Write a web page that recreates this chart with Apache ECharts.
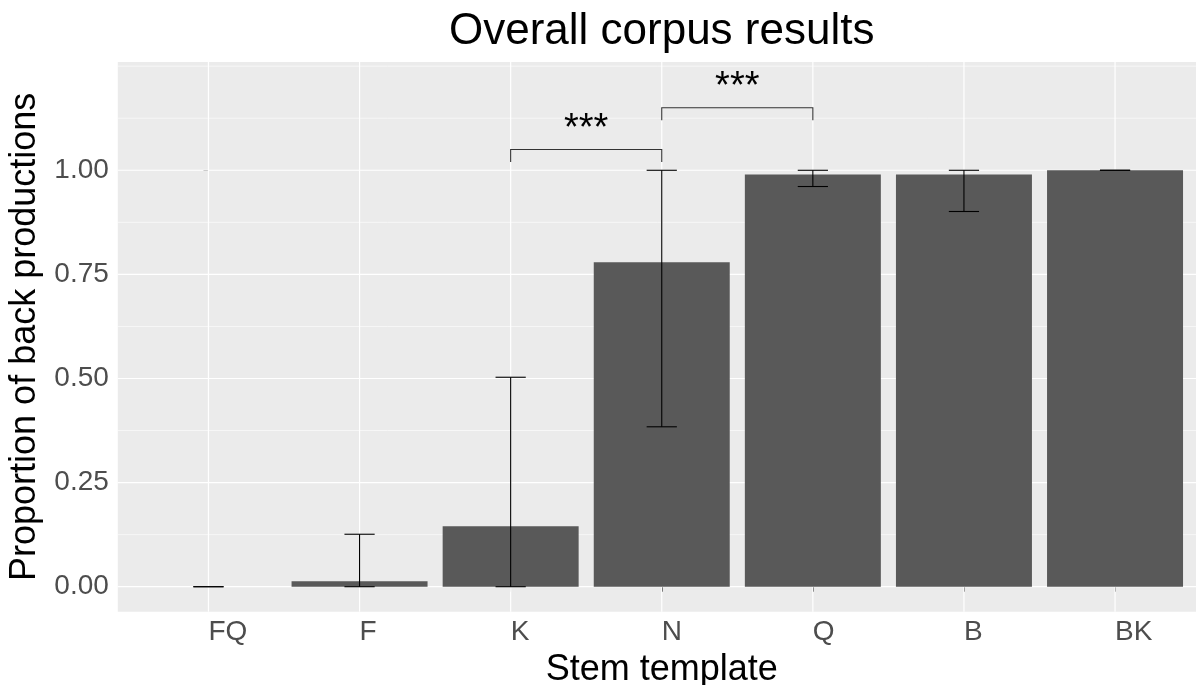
<!DOCTYPE html>
<html>
<head>
<meta charset="utf-8">
<script src="https://cdn.jsdelivr.net/npm/echarts@6/dist/echarts.min.js"></script>
<style>
html,body{margin:0;padding:0;background:#fff;}
#chart{width:1196px;height:685px;}
</style>
</head>
<body>
<div id="chart"></div>
<script>
// ---- data ----
const categories = ['FQ', 'F', 'K', 'N', 'Q', 'B', 'BK'];
const proportions = [0, 0.013, 0.145, 0.779, 0.990, 0.990, 1.0];
const errLower = [0, 0, 0, 0.384, 0.961, 0.901, 1.0];
const errUpper = [0, 0.126, 0.503, 1.0, 1.0, 1.0, 1.0];
// brackets: [from category index, to category index, bar height, tip end height]
const brackets = [[2, 3, 1.05, 1.02], [3, 4, 1.15, 1.12]];
const sigLabels = ['***', '***'];
const sigLabelY = [1.118, 1.218];
const yTicks = [0, 0.25, 0.5, 0.75, 1.0];
const yMinor = [0.125, 0.375, 0.625, 0.875, 1.125, 1.25];

const FONT = '"Liberation Sans", Arial, Helvetica, sans-serif';
const xIdx = categories.map((c, i) => i);

const chart = echarts.init(document.getElementById('chart'), null, {renderer: 'canvas'});

function hLineRender(width) {
  return function (params, api) {
    const v = api.value(0);
    const cs = params.coordSys;
    const p = api.coord([0, v]);
    return {type: 'line', shape: {x1: cs.x, y1: p[1], x2: cs.x + cs.width, y2: p[1]},
      style: {stroke: '#ffffff', lineWidth: width}, silent: true};
  };
}

const option = {
  animation: false,
  backgroundColor: '#ffffff',
  title: {
    text: 'Overall corpus results',
    left: 661.7, top: 10, padding: 0, textAlign: 'center',
    textStyle: {fontFamily: FONT, fontSize: 44, fontWeight: 'normal', color: '#000000'}
  },
  grid: {
    left: 117.8, right: -9.7, top: 62, bottom: 73.3,
    outerBoundsMode: 'none', containLabel: false,
    show: true, backgroundColor: '#ebebeb', borderWidth: 0
  },
  xAxis: {
    type: 'value', min: -0.6, max: 6.6,
    name: 'Stem template', nameLocation: 'middle', nameGap: 33,
    nameTextStyle: {fontFamily: FONT, fontSize: 36, color: '#000000'},
    axisLine: {show: false},
    axisTick: {show: true, customValues: xIdx, length: 5, lineStyle: {color: '#333333', width: 1}},
    axisLabel: {
      customValues: xIdx, margin: 7, align: 'left',
      fontFamily: FONT, fontSize: 28, color: '#4d4d4d',
      formatter: v => categories[Math.round(v)] || ''
    },
    splitLine: {show: false}
  },
  yAxis: {
    type: 'value', min: -0.06, max: 1.26,
    name: 'Proportion of back productions', nameLocation: 'middle', nameGap: 70,
    nameTextStyle: {fontFamily: FONT, fontSize: 36, color: '#000000'},
    axisLine: {show: false},
    axisTick: {show: true, customValues: yTicks, length: 5, lineStyle: {color: '#333333', width: 1}},
    axisLabel: {
      customValues: yTicks, margin: 9,
      fontFamily: FONT, fontSize: 28, color: '#4d4d4d',
      formatter: v => v.toFixed(2)
    },
    splitLine: {show: false}
  },
  series: [
    { // minor horizontal grid
      type: 'custom', z: 1, silent: true,
      data: yMinor.map(v => [v]), encode: {y: 0},
      renderItem: hLineRender(0.6)
    },
    { // major horizontal grid
      type: 'custom', z: 2, silent: true,
      data: yTicks.map(v => [v]), encode: {y: 0},
      renderItem: hLineRender(1.2)
    },
    { // major vertical grid
      type: 'custom', z: 2, silent: true,
      data: xIdx.map(v => [v]), encode: {x: 0},
      renderItem: function (params, api) {
        const cs = params.coordSys;
        const p = api.coord([api.value(0), 0]);
        return {type: 'line', shape: {x1: p[0], y1: cs.y, x2: p[0], y2: cs.y + cs.height},
          style: {stroke: '#ffffff', lineWidth: 1.2}, silent: true};
      }
    },
    { // bars
      type: 'custom', z: 3,
      data: xIdx.map(i => [i, proportions[i]]), encode: {x: 0, y: 1},
      renderItem: function (params, api) {
        const x = api.value(0), v = api.value(1);
        const a = api.coord([x - 0.45, v]);
        const b = api.coord([x + 0.45, 0]);
        return {type: 'rect', shape: {x: a[0], y: a[1], width: b[0] - a[0], height: b[1] - a[1]},
          style: {fill: '#595959'}};
      }
    },
    { // error bars
      type: 'custom', z: 4,
      data: xIdx.map(i => [i, errLower[i], errUpper[i]]), encode: {x: 0, y: [1, 2]},
      renderItem: function (params, api) {
        const x = api.value(0), lo = api.value(1), hi = api.value(2);
        const pl = api.coord([x, lo]), ph = api.coord([x, hi]);
        const cl = api.coord([x - 0.1, lo]), cr = api.coord([x + 0.1, lo]);
        const st = {stroke: '#000000', lineWidth: 1.1};
        return {type: 'group', children: [
          {type: 'line', shape: {x1: pl[0], y1: pl[1], x2: ph[0], y2: ph[1]}, style: st},
          {type: 'line', shape: {x1: cl[0], y1: pl[1], x2: cr[0], y2: pl[1]}, style: st},
          {type: 'line', shape: {x1: cl[0], y1: ph[1], x2: cr[0], y2: ph[1]}, style: st}
        ]};
      }
    },
    { // significance brackets
      type: 'custom', z: 4,
      data: brackets, encode: {x: [0, 1], y: [2, 3]},
      renderItem: function (params, api) {
        const x1 = api.value(0), x2 = api.value(1), yb = api.value(2), ye = api.value(3);
        const a = api.coord([x1, ye]), b = api.coord([x1, yb]);
        const c = api.coord([x2, yb]), d = api.coord([x2, ye]);
        return {type: 'polyline', shape: {points: [a, b, c, d]},
          style: {stroke: '#333333', lineWidth: 1.1, fill: null}};
      }
    },
    { // significance labels
      type: 'custom', z: 5,
      data: brackets.map((b, i) => [(b[0] + b[1]) / 2, sigLabelY[i], sigLabels[i]]),
      encode: {x: 0, y: 1},
      renderItem: function (params, api) {
        const p = api.coord([api.value(0), api.value(1)]);
        return {type: 'text', x: p[0], y: p[1] + 8,
          style: {text: sigLabels[params.dataIndex], fontFamily: FONT, fontSize: 38,
            fill: '#000000', align: 'center', verticalAlign: 'middle'}};
      }
    }
  ]
};
chart.setOption(option);
</script>
</body>
</html>
